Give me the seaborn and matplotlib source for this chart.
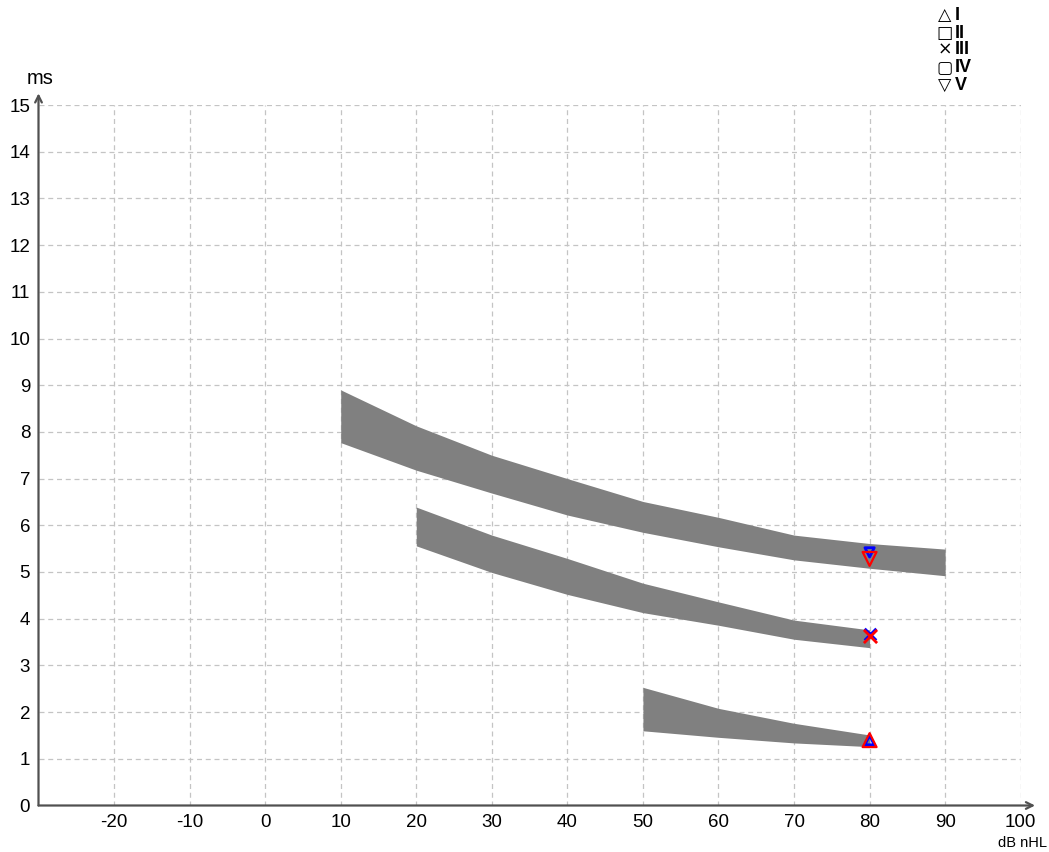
import matplotlib
matplotlib.use("Agg")
import matplotlib.pyplot as plt
import seaborn as sns
import pandas as pd

# ---- data ----
x_V = [10, 20, 30, 40, 50, 60, 70, 80, 90]
V_upper = [8.90, 8.13, 7.50, 7.00, 6.51, 6.17, 5.79, 5.61, 5.49]
V_lower = [7.77, 7.18, 6.69, 6.22, 5.85, 5.54, 5.26, 5.08, 4.92]

x_III = [20, 30, 40, 50, 60, 70, 80]
III_upper = [6.39, 5.79, 5.29, 4.76, 4.36, 3.97, 3.76]
III_lower = [5.56, 4.99, 4.52, 4.13, 3.86, 3.56, 3.38]

x_I = [50, 60, 70, 80]
I_upper = [2.53, 2.08, 1.76, 1.51]
I_lower = [1.60, 1.46, 1.34, 1.26]

peak_waves = ["I", "III", "V"]
peak_level = [80, 80, 80]
red_latency = [1.40, 3.62, 5.28]
blue_latency = [1.40, 3.68, 5.42]
peak_markers = {"I": "^", "III": "X", "V": "v"}

x_ticks = [-20, -10, 0, 10, 20, 30, 40, 50, 60, 70, 80, 90, 100]
y_ticks = list(range(0, 16))
legend_symbols = ["△", "□", "×", "▢", "▽"]
legend_labels = ["I", "II", "III", "IV", "V"]

# ---- styling ----
sns.set_theme(style="white")
plt.rcParams["font.family"] = ["Liberation Sans", "DejaVu Sans"]

fig = plt.figure(figsize=(10.49, 8.52), dpi=100)
ax = fig.add_axes([38.5 / 1049, 46.5 / 852, (1020.7 - 38.5) / 1049, (805.5 - 105) / 852])
ax.set_xlim(-30, 100)
ax.set_ylim(0, 15)

# grid
for xt in x_ticks:
    ax.axvline(xt, color="#c4c4c4", lw=0.9, ls=(0, (4, 3)), zorder=0)
for yt in y_ticks[1:]:
    ax.axhline(yt, color="#c4c4c4", lw=0.9, ls=(0, (4, 3)), zorder=0)

# normative bands
band_grey = "#808080"
for xs, lo, hi in [(x_V, V_lower, V_upper), (x_III, III_lower, III_upper), (x_I, I_lower, I_upper)]:
    ax.fill_between(xs, lo, hi, color=band_grey, lw=0, zorder=1)

# peaks
df_blue = pd.DataFrame({"level": peak_level, "latency": blue_latency, "wave": peak_waves})
df_red = pd.DataFrame({"level": peak_level, "latency": red_latency, "wave": peak_waves})
for w in peak_waves:
    m = peak_markers[w]
    sb = df_blue[df_blue.wave == w]
    sr = df_red[df_red.wave == w]
    if m == "X":
        sns.scatterplot(data=sb, x="level", y="latency", marker="x", s=70, color="blue",
                        linewidth=2, ax=ax, zorder=3, legend=False)
        sns.scatterplot(data=sr, x="level", y="latency", marker="x", s=90, color="red",
                        linewidth=2, ax=ax, zorder=4, legend=False)
    else:
        sns.scatterplot(data=sb, x="level", y="latency", marker=m, s=45, facecolor="none",
                        edgecolor="blue", linewidth=2, ax=ax, zorder=3, legend=False)
        sns.scatterplot(data=sr, x="level", y="latency", marker=m, s=100, facecolor="none",
                        edgecolor="red", linewidth=1.6, ax=ax, zorder=4, legend=False)

# axes, ticks
for s in ax.spines.values():
    s.set_visible(False)
axis_col = "#505050"
ax.annotate("", xy=(101.9, 0), xytext=(-30, 0), xycoords="data",
            arrowprops=dict(arrowstyle="->", color=axis_col, lw=1.6, shrinkA=0, shrinkB=0),
            annotation_clip=False)
ax.annotate("", xy=(-30, 15.25), xytext=(-30, 0), xycoords="data",
            arrowprops=dict(arrowstyle="->", color=axis_col, lw=1.6, shrinkA=0, shrinkB=0),
            annotation_clip=False)

ax.set_xticks(x_ticks)
ax.set_xticklabels([str(v) for v in x_ticks])
ax.set_yticks(y_ticks)
ax.set_yticklabels([str(v) for v in y_ticks])
ax.tick_params(axis="both", length=0, labelsize=13.5, colors="black")
ax.tick_params(axis="x", pad=6)
ax.tick_params(axis="y", pad=6)
ax.set_xlabel("")
ax.set_ylabel("")

fig.text(40 / 1049, 1 - 78 / 852, "ms", ha="center", va="center", fontsize=14.5, color="black")
fig.text(1023 / 1049, 1 - 843 / 852, "dB nHL", ha="center", va="center", fontsize=10.5, color="black")

# symbol legend (top right)
rows_y = [15, 33, 50, 68, 86]
for sym, lab, yy in zip(legend_symbols, legend_labels, rows_y):
    fig.text(945 / 1049, 1 - yy / 852, sym, ha="center", va="center", fontsize=12.5,
             family=["DejaVu Sans"], color="black")
    fig.text(955 / 1049, 1 - yy / 852, lab, ha="left", va="center", fontsize=13,
             fontweight="bold", color="black")

fig.savefig("out.png", dpi=100)
